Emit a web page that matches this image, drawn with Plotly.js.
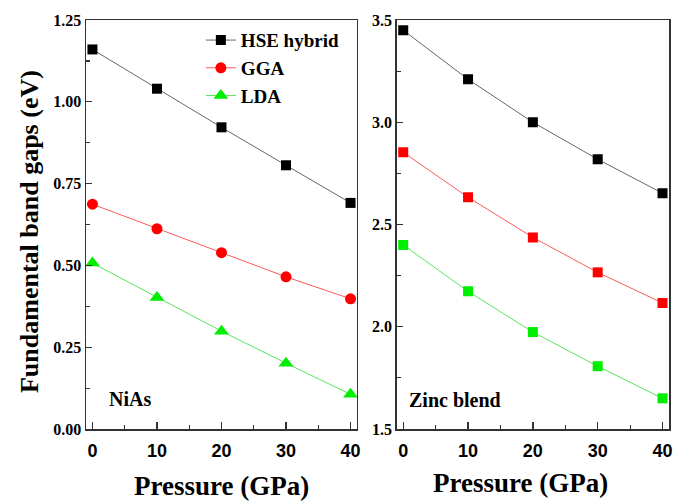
<!DOCTYPE html>
<html>
<head>
<meta charset="utf-8">
<script src="https://cdn.plot.ly/plotly-3.0.1.min.js"></script>
<style>
  html, body { margin: 0; padding: 0; background: #fff; }
  #chart { width: 673px; height: 502px; }
</style>
</head>
<body>
<div id="chart"></div>
<script>
// Pressure points (GPa)
const pressure = [0, 10, 20, 30, 40];

// NiAs phase band gaps (eV)
const niasHSE = [1.160, 1.040, 0.922, 0.806, 0.691];
const niasGGA = [0.687, 0.612, 0.539, 0.465, 0.398];
const niasLDA = [0.507, 0.402, 0.299, 0.201, 0.106];

// Zinc blend phase band gaps (eV)
const zbHSE = [3.450, 3.210, 3.000, 2.819, 2.653];
const zbGGA = [2.853, 2.633, 2.437, 2.266, 2.116];
const zbLDA = [2.400, 2.173, 1.974, 1.807, 1.650];

const seriesNames = ['HSE hybrid', 'GGA', 'LDA'];
const panelLabels = ['NiAs', 'Zinc blend'];
const xTitle = 'Pressure (GPa)';
const yTitle = 'Fundamental band gaps (eV)';

const SERIF = 'Liberation Serif';
const SANS = 'Liberation Sans';

const lineCol = ['#666666', '#ff5a5a', '#5ae65a'];
const markCol = ['#000000', '#ff0000', '#00ee00'];

function trace(x, y, i, xa, ya, symbol, size, legend) {
  return {
    x: x, y: y, xaxis: xa, yaxis: ya,
    type: 'scatter', mode: 'lines+markers',
    name: seriesNames[i], showlegend: legend,
    line: { color: lineCol[i], width: 1 },
    marker: { color: markCol[i], symbol: symbol, size: size }
  };
}

const data = [
  trace(pressure, niasHSE, 0, 'x', 'y', 'square', 10, true),
  trace(pressure, niasGGA, 1, 'x', 'y', 'circle', 11, true),
  trace(pressure, niasLDA, 2, 'x', 'y', 'triangle-up', 13, true),
  trace(pressure, zbHSE, 0, 'x2', 'y2', 'square', 10, false),
  trace(pressure, zbGGA, 1, 'x2', 'y2', 'square', 10, false),
  trace(pressure, zbLDA, 2, 'x2', 'y2', 'square', 10, false)
];

const frame = {
  showline: true, mirror: true, linecolor: '#333', linewidth: 1.5,
  showgrid: false, zeroline: false, ticks: 'inside', tickcolor: '#333',
  tickwidth: 1.3
};

function xAxis(domain, anchor) {
  return Object.assign({}, frame, {
    domain: domain, anchor: anchor, range: [-1, 41],
    tickmode: 'linear', tick0: 0, dtick: 10, ticklen: 7,
    minor: { ticks: 'inside', dtick: 5, ticklen: 4, tickcolor: '#333', tickwidth: 1.2 },
    tickfont: { family: SANS, size: 18, color: '#000', weight: 'bold' },
    ticklabelstandoff: 5
  });
}

function yAxis(range, dtick, fmt, anchor) {
  return Object.assign({}, frame, {
    anchor: anchor, range: range,
    tickmode: 'linear', tick0: range[0], dtick: dtick, ticklen: 6,
    tickformat: fmt,
    minor: { ticks: 'inside', dtick: dtick / 2, ticklen: 4, tickcolor: '#333', tickwidth: 1.2 },
    tickfont: { family: SERIF, size: 16, color: '#000', weight: 'bold' }
  });
}

const bold = (s) => '<b>' + s + '</b>';

const layout = {
  width: 673, height: 502,
  margin: { l: 86, r: 4, t: 20, b: 73 },
  paper_bgcolor: '#fff', plot_bgcolor: '#fff',
  showlegend: true,
  legend: {
    x: 0.197, y: 0.997, xanchor: 'left', yanchor: 'top',
    font: { family: SERIF, size: 19, color: '#000', weight: 'bold' },
    bgcolor: 'rgba(0,0,0,0)', borderwidth: 0, tracegroupgap: 0
  },
  xaxis: xAxis([0, 0.4648], 'y'),
  yaxis: yAxis([0, 1.25], 0.25, '.2f', 'x'),
  xaxis2: xAxis([0.533, 1.0], 'y2'),
  yaxis2: yAxis([1.5, 3.5], 0.5, '.1f', 'x2'),
  annotations: [
    { xref: 'x', yref: 'y', x: 2.2, y: 0.093, xanchor: 'left', yanchor: 'middle',
      text: bold(panelLabels[0]), showarrow: false,
      font: { family: SERIF, size: 20, color: '#000' } },
    { xref: 'x2', yref: 'y2', x: 0.57, y: 1.644, xanchor: 'left', yanchor: 'middle',
      text: bold(panelLabels[1]), showarrow: false,
      font: { family: SERIF, size: 20, color: '#000' } },
    { xref: 'paper', yref: 'paper', x: 0.2316, y: -0.139, xanchor: 'center', yanchor: 'middle',
      text: bold(xTitle), showarrow: false,
      font: { family: SERIF, size: 27, color: '#000' } },
    { xref: 'paper', yref: 'paper', x: 0.746, y: -0.132, xanchor: 'center', yanchor: 'middle',
      text: bold(xTitle), showarrow: false,
      font: { family: SERIF, size: 27, color: '#000' } },
    { xref: 'paper', yref: 'paper', x: -0.096, y: 0.4817, xanchor: 'center', yanchor: 'middle',
      text: bold(yTitle), textangle: -90, showarrow: false,
      font: { family: SERIF, size: 26, color: '#000' } }
  ]
};

Plotly.newPlot('chart', data, layout, { staticPlot: true, displayModeBar: false });
</script>
</body>
</html>
